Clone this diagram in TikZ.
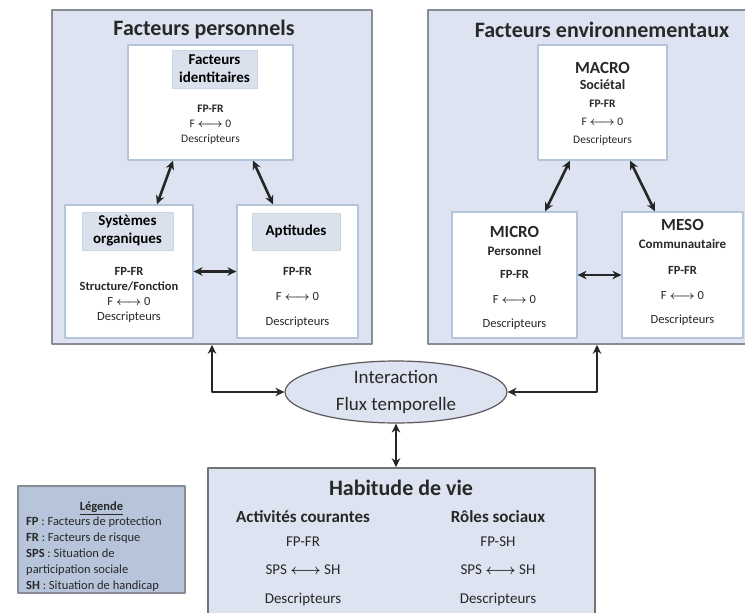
\documentclass[tikz,border=0pt]{standalone}
\usepackage{fontspec}
\setmainfont{Carlito}
\usepackage{amsmath,amssymb}
\usetikzlibrary{arrows.meta,shapes.geometric}

\definecolor{panelfill}{RGB}{221,227,240}
\definecolor{panelline}{RGB}{135,140,150}
\definecolor{boxline}{RGB}{180,196,218}
\definecolor{tagfill}{RGB}{218,225,237}
\definecolor{legfill}{RGB}{182,197,218}
\definecolor{txtgray}{RGB}{40,40,40}

\newcommand{\fz}[2]{\fontsize{#1pt}{#2pt}\selectfont}
\newcommand{\lr}{$\boldsymbol{\longleftrightarrow}$}

\tikzset{
  panel/.style={draw=panelline, fill=panelfill, line width=1.6pt},
  subbox/.style={draw=boxline, fill=white, line width=1.2pt},
  tagbox/.style={draw=boxline!70, fill=tagfill, line width=0.6pt, align=center, font=\fz{15}{18}\bfseries},
  bigtitle/.style={font=\fz{22}{26}\bfseries, text=txtgray},
  smalltxt/.style={align=center, text=txtgray},
  dbl/.style={{Stealth[length=9pt,width=8.5pt]}-{Stealth[length=9pt,width=8.5pt]}, line width=2.6pt, black!85},
}

\begin{document}
\begin{tikzpicture}[x=1pt, y=-1pt, line join=round]

\useasboundingbox (0,0) rectangle (745,613);

\node[panel, minimum width=320pt, minimum height=334pt] (perso) at (212,177) {};
\node[panel, minimum width=338pt, minimum height=334pt] (env) at (597,177) {};
\node[bigtitle] (persotitle) at (204,30) {Facteurs personnels};
\node[bigtitle] (envtitle) at (602,30) {Facteurs environnementaux};

\node[subbox, minimum width=165pt, minimum height=115pt] (ident) at (210.5,102.5) {};
\node[tagbox, minimum width=85pt, minimum height=38pt, inner sep=1pt] (identtag) at (214.5,69) {Facteurs\\identitaires};
\node[smalltxt, font=\fz{11.5}{15}] (identtxt) at (210.5,125) {\textbf{FP-FR}\\F \lr{} 0\\Descripteurs};

\node[subbox, minimum width=128pt, minimum height=133pt] (sysorg) at (129,271.5) {};
\node[tagbox, minimum width=91pt, minimum height=38pt, inner sep=1pt] (sysorgtag) at (127.5,231) {Systèmes\\organiques};
\node[smalltxt, font=\fz{12.5}{15.3}] (sysorgtxt) at (129,295) {\textbf{FP-FR}\\\textbf{Structure/Fonction}\\F \lr{} 0\\Descripteurs};

\node[subbox, minimum width=121pt, minimum height=133pt] (apt) at (297.5,271.5) {};
\node[tagbox, minimum width=88pt, minimum height=37pt] (apttag) at (296,231.5) {Aptitudes};
\node[smalltxt, font=\fz{12.5}{25}] (apttxt) at (297.5,297) {\textbf{FP-FR}\\F \lr{} 0\\Descripteurs};

\node[subbox, minimum width=129pt, minimum height=115pt] (macro) at (602.5,102.5) {};
\node[smalltxt, font=\fz{17}{17}\bfseries] (macrohead) at (602.5,76) {MACRO\\[-1pt]{\fz{14}{14}Sociétal}};
\node[smalltxt, font=\fz{11.5}{18}] (macrotxt) at (602.5,123) {\textbf{FP-FR}\\F \lr{} 0\\Descripteurs};

\node[subbox, minimum width=125pt, minimum height=126pt] (micro) at (514.5,275) {};
\node[smalltxt, font=\fz{17}{18}\bfseries] (microhead) at (514.5,241) {MICRO\\{\fz{13}{13}Personnel}};
\node[smalltxt, font=\fz{12.5}{24.5}] (microtxt) at (514.5,300) {\textbf{FP-FR}\\F \lr{} 0\\Descripteurs};

\node[subbox, minimum width=121pt, minimum height=126pt] (meso) at (682.5,275) {};
\node[smalltxt, font=\fz{17}{18}\bfseries] (mesohead) at (682.5,234) {MESO\\{\fz{13}{13}Communautaire}};
\node[smalltxt, font=\fz{12.5}{24.5}] (mesotxt) at (682.5,296) {\textbf{FP-FR}\\F \lr{} 0\\Descripteurs};

\draw[dbl] ([xshift=-37.5pt]ident.south) -- ([xshift=28pt]sysorg.north);
\draw[dbl] ([xshift=42.5pt]ident.south) -- ([xshift=-24.5pt]apt.north);
\draw[dbl] (sysorg.east) -- (apt.west);
\draw[dbl] ([xshift=-32.5pt]macro.south) -- ([xshift=30.5pt]micro.north);
\draw[dbl] ([xshift=27.5pt]macro.south) -- ([xshift=-27.5pt]meso.north);
\draw[dbl] (micro.east) -- (meso.west);

\node[ellipse, draw=black!65, fill=panelfill, line width=1.2pt, minimum width=222pt, minimum height=62pt, inner sep=0pt, align=center, font=\fz{19}{27}, text=txtgray] (inter) at (396,392) {Interaction\\Flux temporelle};

\draw[dbl] (perso.south) |- (inter.west);
\draw[dbl] (env.south) |- (inter.east);

\node[panel, draw=black!55, minimum width=387pt, minimum height=154pt] (habit) at (401.5,545) {};
\node[bigtitle] (habittitle) at (401,488) {Habitude de vie};
\node[smalltxt, font=\fz{17}{17}\bfseries] (acthead) at (303,517) {Activités courantes};
\node[smalltxt, font=\fz{15}{28.5}] (acttxt) at (303,571) {FP-FR\\SPS \lr{} SH\\Descripteurs};
\node[smalltxt, font=\fz{17}{17}\bfseries] (rolehead) at (498,517) {Rôles sociaux};
\node[smalltxt, font=\fz{15}{28.5}] (roletxt) at (498,571) {FP-SH\\SPS \lr{} SH\\Descripteurs};

\draw[dbl] (inter.south) -- (inter.south |- habit.north);

\node[draw=panelline, fill=legfill, line width=1.2pt, minimum width=167pt, minimum height=107pt] (legend) at (101.5,539.5) {};
\node[font=\fz{12.5}{16}\bfseries, text=txtgray] (legtitle) at (101.5,508) {\underline{Légende}};
\node[anchor=north west, align=left, font=\fz{12.5}{16}, text=txtgray, inner sep=0pt] (legtxt) at (26,517) {\textbf{FP} : Facteurs de protection\\\textbf{FR} : Facteurs de risque\\\textbf{SPS} : Situation de\\participation sociale\\\textbf{SH} : Situation de handicap};

\end{tikzpicture}
\end{document}
